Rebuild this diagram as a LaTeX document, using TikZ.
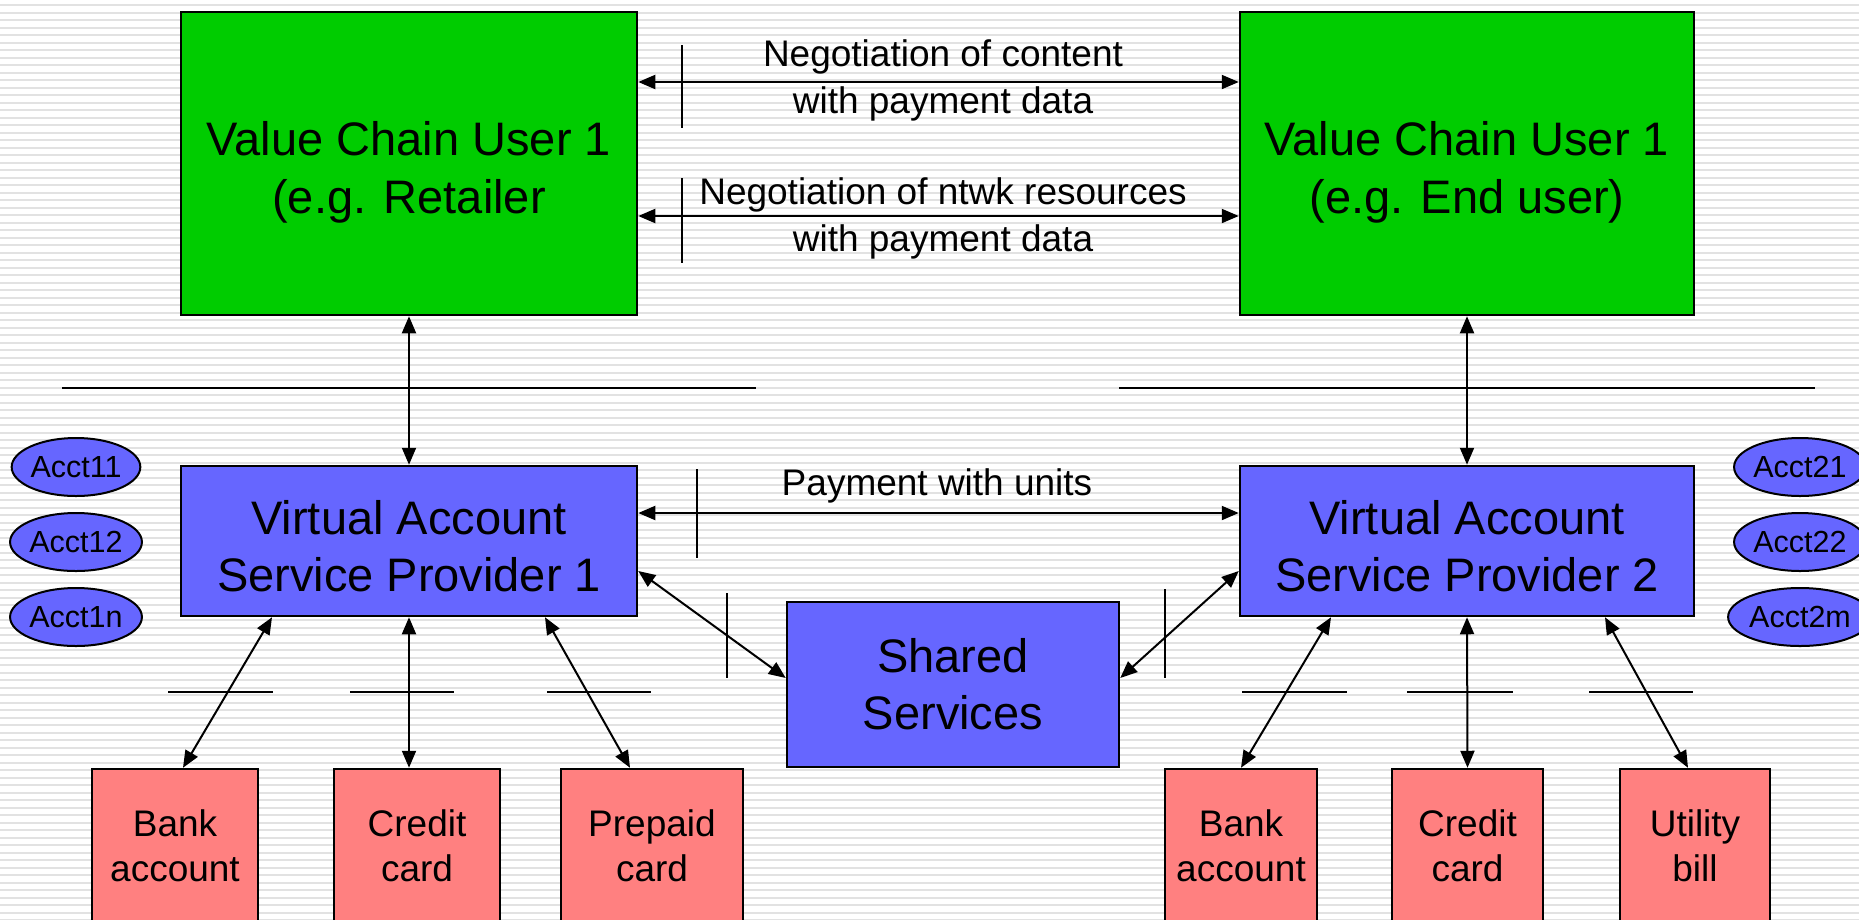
\documentclass[tikz,border=0pt]{standalone}
\usepackage{fontspec}
\setmainfont{Liberation Sans}
\usetikzlibrary{arrows.meta,shapes.geometric}
\definecolor{boxgreen}{RGB}{0,204,0}
\definecolor{boxblue}{RGB}{102,102,255}
\definecolor{boxred}{RGB}{255,128,128}
\definecolor{stripe}{RGB}{226,226,226}
\newcommand\greentxt{\fontsize{47}{58}\selectfont}
\newcommand\bigtxt{\fontsize{47}{57}\selectfont}
\newcommand\midtxt{\fontsize{37}{47}\selectfont}
\newcommand\redtxt{\fontsize{37}{45}\selectfont}
\newcommand\acctxt{\fontsize{30.5}{36}\selectfont}
% two centred lines, lowered a little inside their box (box size kept)
\newcommand\twolines[3]{\raisebox{-#1}[\height][\depth]{\begin{tabular}{@{}c@{}}#2\\#3\end{tabular}}}
\begin{document}
\begin{tikzpicture}[x=1pt,y=-1pt,
  box/.style={draw=black,line width=2.5pt,inner sep=0pt,align=center},
  greenbox/.style={box,fill=boxgreen,minimum width=456pt,minimum height=303pt,font=\greentxt},
  bluebox/.style={box,fill=boxblue,font=\bigtxt},
  redbox/.style={box,fill=boxred,minimum height=154pt,font=\redtxt},
  acct/.style={ellipse,draw=black,line width=2pt,fill=boxblue,inner sep=0pt,
    minimum width=123pt,minimum height=58pt,font=\acctxt},
  conn/.style={line width=2pt,{Triangle[length=17pt,width=14pt]}-{Triangle[length=17pt,width=14pt]}},
  rule/.style={line width=2pt},
  lbl/.style={font=\midtxt,align=center,inner sep=0pt}]
\useasboundingbox (0,0) rectangle (1859,919);
\clip (0,0) rectangle (1859,919);
% striped background
\fill[white] (0,0) rectangle (1859,919);
\foreach \i in {0,...,122}
  \draw[stripe,line width=2pt] (0,{5+7.5*\i}) -- (1859,{5+7.5*\i});

% value chain users
\node[greenbox] (gL) at (409,163.5) {\twolines{9pt}{Value Chain User 1}{(e.g. Retailer}};
\node[greenbox,minimum width=454pt] (gR) at (1467,163.5) {\twolines{9pt}{Value Chain User 1}{(e.g. End user)}};

% virtual account service providers
\node[bluebox,minimum width=456pt,minimum height=150pt] (v1) at (409,541) {\twolines{11pt}{Virtual Account}{Service Provider 1}};
\node[bluebox,minimum width=454pt,minimum height=150pt] (v2) at (1467,541) {\twolines{11pt}{Virtual Account}{Service Provider 2}};
\node[bluebox,minimum width=332pt,minimum height=165pt] (ss) at (953,684.5) {Shared\\Services};

% payment instruments
\node[redbox,minimum width=166pt] (b1) at (175,846) {Bank\\account};
\node[redbox,minimum width=166pt] (c1) at (417,846) {Credit\\card};
\node[redbox,minimum width=182pt] (p1) at (652,846) {Prepaid\\card};
\node[redbox,minimum width=152pt] (b2) at (1241,846) {Bank\\account};
\node[redbox,minimum width=151pt] (c2) at (1467.5,846) {Credit\\card};
\node[redbox,minimum width=150pt] (u2) at (1695,846) {Utility\\bill};

% accounts
\node[acct] (a11) at (76,467) {Acct11};
\node[acct] (a12) at (76,542) {Acct12};
\node[acct] (a1n) at (76,617) {Acct1n};
\node[acct] (a21) at (1800,467) {Acct21};
\node[acct] (a22) at (1800,542) {Acct22};
\node[acct] (a2m) at (1800,617) {Acct2m};

% negotiation between users
\draw[conn] ([yshift=81.5pt]gL.east) -- ([yshift=81.5pt]gR.west);
\draw[conn] ([yshift=-52.5pt]gL.east) -- ([yshift=-52.5pt]gR.west);
\node[lbl] (n1) at (943,80) {Negotiation of content\\with payment data};
\node[lbl] (n2) at (943,218) {Negotiation of ntwk resources\\with payment data};
\draw[rule] (682,45) -- (682,128);
\draw[rule] (682,178) -- (682,263);

% layer separators
\draw[rule] (62,388) -- (756,388);
\draw[rule] (1119,388) -- (1815,388);

% users to providers
\draw[conn] (gL.south) -- (v1.north);
\draw[conn] (gR.south) -- (v2.north);

% payment between providers
\draw[conn] ([yshift=28pt]v1.east) -- ([yshift=28pt]v2.west);
\node[lbl] (pu) at (937,486) {Payment with units};
\draw[rule] (697,469) -- (697,558);

% shared services
\draw[conn] ([yshift=-30pt]v1.east) -- ([yshift=6.5pt]ss.west);
\draw[conn] ([yshift=-30pt]v2.west) -- ([yshift=6.5pt]ss.east);
\draw[rule] (727,593) -- (727,678);
\draw[rule] (1165,589) -- (1165,678);

% providers to payment instruments
\draw[conn] ([xshift=-137pt]v1.south) -- ([xshift=8pt]b1.north);
\draw[conn] (v1.south) -- (v1.south |- c1.north);
\draw[conn] ([xshift=136pt]v1.south) -- ([xshift=-22pt]p1.north);
\draw[conn] ([xshift=-136pt]v2.south) -- (b2.north);
\draw[conn] (v2.south) -- (c2.north);
\draw[conn] ([xshift=138pt]v2.south) -- ([xshift=-7pt]u2.north);
\draw[rule] (168,692) -- (273,692);
\draw[rule] (350,692) -- (454,692);
\draw[rule] (547,692) -- (651,692);
\draw[rule] (1242,692) -- (1347,692);
\draw[rule] (1407,692) -- (1513,692);
\draw[rule] (1589,692) -- (1693,692);
\end{tikzpicture}
\end{document}
